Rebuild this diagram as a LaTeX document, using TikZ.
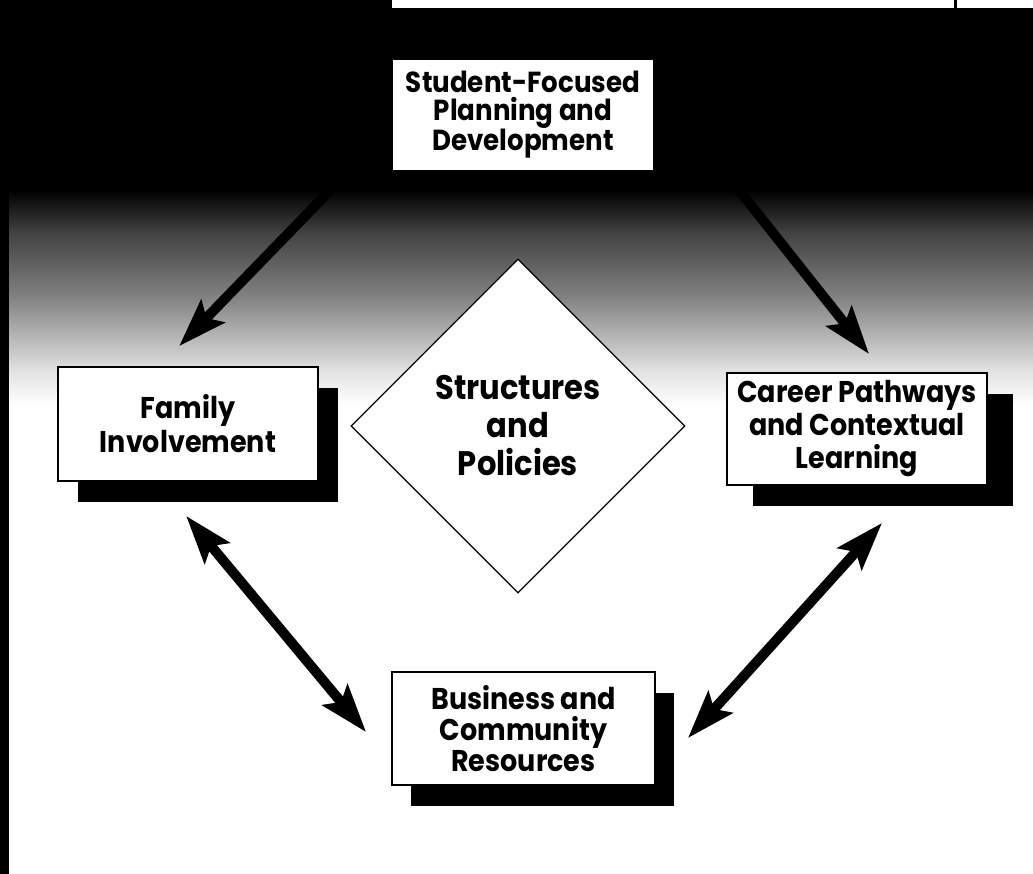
\documentclass[tikz,border=0pt]{standalone}
\usepackage{fontspec}
\setmainfont{Poppins}[FakeStretch=0.9]
\usetikzlibrary{arrows.meta,shapes.geometric,shadows}
\begin{document}
\begin{tikzpicture}[x=1pt,y=-1pt,
  txt/.style 2 args={align=center,font=\fontsize{#1}{#2}\selectfont\bfseries,inner sep=0pt},
  box/.style={draw=black,line width=1.8pt,fill=white,minimum width=260pt},
  shadowed/.style={drop shadow={shadow xshift=#1,shadow yshift=-21pt,fill=black,opacity=1}},
  dia/.style={diamond,draw=black,line width=1.2pt,fill=white,minimum width=334pt,minimum height=334pt,
    inner sep=0pt},
  onearrow/.style={line width=10pt,-{Stealth[length=48pt,width=32pt,inset=9pt]}},
  twoarrow/.style={line width=10pt,{Stealth[length=48pt,width=32pt,inset=9pt]}-{Stealth[length=48pt,width=32pt,inset=9pt]}}
]
\useasboundingbox (0,0) rectangle (1033,874);
% background
\fill[white] (0,0) rectangle (1033,874);
\fill[black] (0,0) rectangle (1033,191);
\shade[top color=black,bottom color=black!75] (0,190) rectangle (1033,232);
\shade[top color=black!75,bottom color=black!48] (0,231) rectangle (1033,300);
\shade[top color=black!48,bottom color=black!12] (0,299) rectangle (1033,370);
\shade[top color=black!12,bottom color=white] (0,369) rectangle (1033,405);
\fill[white] (392,0) rectangle (1033,8);
\fill[black] (953.5,0) rectangle (956.5,8);
\fill[black] (0,0) rectangle (9,874);
% nodes
\node[txt={29}{27.5},fill=white,minimum width=260pt,minimum height=110pt] (sfpd) at (523,115)
  {Student-Focused\\Planning and\\Development};
\node[box,shadowed=20pt,txt={30}{34},minimum height=114pt] (fam) at (188,424)
  {Family\\Involvement};
\node[box,shadowed=26pt,txt={30}{33},minimum height=112pt] (car) at (857,429)
  {Career Pathways\\and Contextual\\Learning};
\node[box,shadowed=19pt,txt={30}{31},minimum width=263pt,minimum height=113pt] (bus) at (523.5,728.5)
  {Business and\\Community\\Resources};
\node[dia,txt={34}{38}] (sp) at (518,426) {Structures\\and\\Policies};
% connectors
\draw[onearrow] ([xshift=-48pt,yshift=-5pt]sfpd.south west) -- ([xshift=122pt,yshift=20pt]fam.north west);
\draw[onearrow] ([xshift=74pt,yshift=-5pt]sfpd.south east) -- ([xshift=143pt,yshift=18pt]car.north west);
\draw[twoarrow] ([xshift=129pt,yshift=-34pt]fam.south west) -- ([xshift=-25pt,yshift=-61pt]bus.north west);
\draw[twoarrow] ([xshift=156pt,yshift=-37pt]car.south west) -- ([xshift=32pt,yshift=-67pt]bus.north east);
\end{tikzpicture}
\end{document}
